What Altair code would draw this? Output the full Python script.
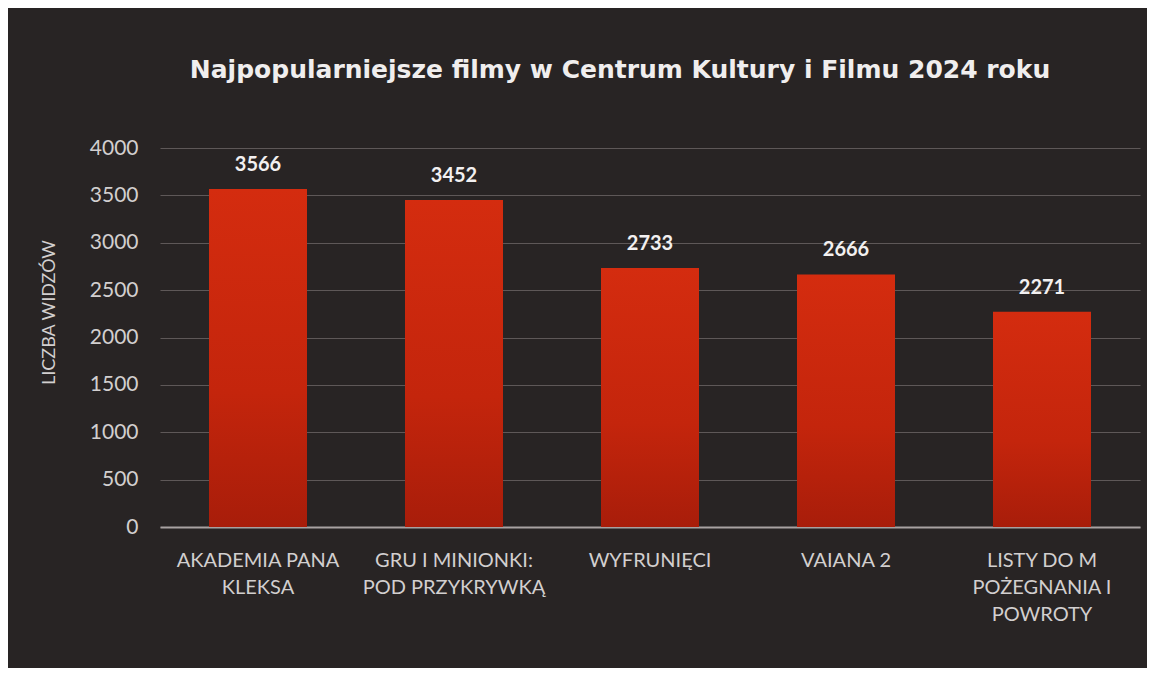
import altair as alt
import pandas as pd

categories = [
    "AKADEMIA PANA\nKLEKSA",
    "GRU I MINIONKI:\nPOD PRZYKRYWKĄ",
    "WYFRUNIĘCI",
    "VAIANA 2",
    "LISTY DO M\nPOŻEGNANIA I\nPOWROTY",
]
viewers = [3566, 3452, 2733, 2666, 2271]
y_ticks = [0, 500, 1000, 1500, 2000, 2500, 3000, 3500, 4000]

title_text = "Najpopularniejsze filmy w Centrum Kultury i Filmu 2024 roku"
y_title = "LICZBA WIDZÓW"

df = pd.DataFrame({"film": categories, "widzowie": viewers})

FONT = "Lato"
LABEL_COLOR = "#d2cfcf"

x_enc = alt.X(
    "film:N",
    sort=categories,
    scale=alt.Scale(paddingInner=0.5, paddingOuter=0.25),
    axis=alt.Axis(
        title=None,
        labelAngle=0,
        labelExpr="split(datum.label, '\\n')",
        labelFont=FONT,
        labelFontSize=20,
        labelColor=LABEL_COLOR,
        labelLineHeight=27,
        labelPadding=23,
        labelBaseline="top",
        labelLimit=300,
        ticks=False,
        domain=True,
        domainColor="#a8a2a2",
        domainWidth=2,
        grid=False,
    ),
)

y_enc = alt.Y(
    "widzowie:Q",
    scale=alt.Scale(domain=[0, 4000], nice=False),
    axis=alt.Axis(
        title=y_title,
        values=y_ticks,
        format="d",
        labelFont=FONT,
        labelFontSize=21,
        labelColor=LABEL_COLOR,
        labelPadding=22,
        ticks=False,
        domain=False,
        grid=True,
        gridColor="#5e5858",
        gridWidth=1,
        titleFont=FONT,
        titleFontSize=18,
        titleFontWeight="normal",
        titleColor=LABEL_COLOR,
        titleAngle=270,
        titleX=-111,
        titleY=164,
        titleAlign="center",
        titleBaseline="middle",
    ),
)

bar_gradient = alt.Gradient(
    gradient="linear",
    stops=[
        alt.GradientStop(color="#d42c0f", offset=0),
        alt.GradientStop(color="#c4250c", offset=0.6),
        alt.GradientStop(color="#a81d0a", offset=1),
    ],
    x1=0, x2=0, y1=0, y2=1,
)

bars = alt.Chart(df).mark_bar(color=bar_gradient).encode(x=x_enc, y=y_enc)

labels = alt.Chart(df).mark_text(
    font=FONT,
    fontSize=20,
    fontWeight="bold",
    color="#f2f0f0",
    baseline="alphabetic",
    dy=-18,
).encode(
    x=alt.X("film:N", sort=categories),
    y=alt.Y("widzowie:Q"),
    text=alt.Text("widzowie:Q", format="d"),
)

chart = (
    alt.layer(bars, labels)
    .properties(
        width=980,
        height=379,
        autosize=alt.AutoSizeParams(type="none"),
        padding={"left": 152, "top": 140, "right": 7, "bottom": 141},
        background="#282424",
        title=alt.TitleParams(
            text=title_text,
            font="DejaVu Sans",
            fontSize=25,
            fontWeight="bold",
            color="#f0eeee",
            anchor="middle",
            dx=-30,
            offset=54,
        ),
    )
    .configure_view(stroke=None)
)

chart.save("out.html", embed_options={"renderer": "svg", "actions": False})
